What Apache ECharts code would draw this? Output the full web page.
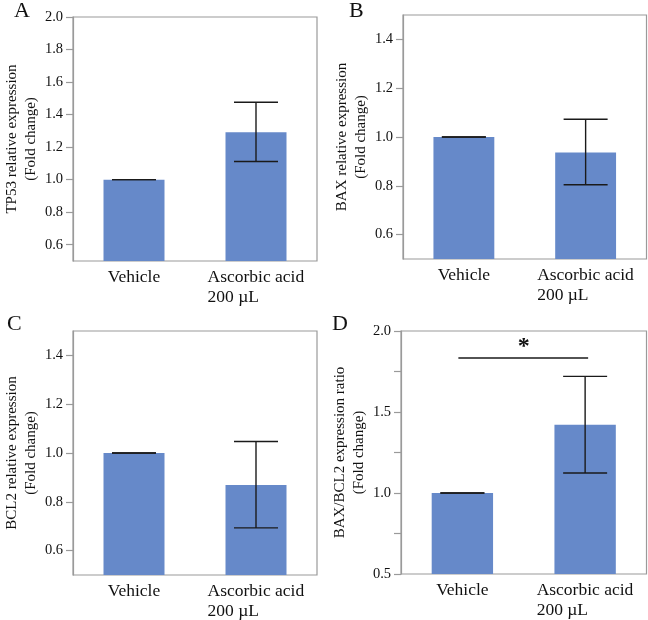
<!DOCTYPE html>
<html>
<head>
<meta charset="utf-8">
<script src="https://cdn.jsdelivr.net/npm/echarts@6/dist/echarts.min.js"></script>
<style>html,body{margin:0;padding:0;background:#fff;}#main{width:648px;height:620px;}</style>
</head>
<body>
<div id="main"></div>
<script>
// ---- data ----
const categories = ['Vehicle', 'Ascorbic acid\n200 µL'];
const panelLetters = ['A', 'B', 'C', 'D'];
const yNames = [
  'TP53 relative expression\n(Fold change)',
  'BAX relative expression\n(Fold change)',
  'BCL2 relative expression\n(Fold change)',
  'BAX/BCL2 expression ratio\n(Fold change)'
];
const meanA = [1.0, 1.292];
const lowA = [1.0, 1.112];
const highA = [1.0, 1.476];
const meanB = [1.0, 0.936];
const lowB = [1.0, 0.804];
const highB = [1.0, 1.073];
const meanC = [1.0, 0.869];
const lowC = [1.0, 0.693];
const highC = [1.0, 1.047];
const meanD = [1.0, 1.422];
const lowD = [1.0, 1.123];
const highD = [1.0, 1.72];
const sigD = 1.833;
const sigMark = '*';
const ticksA = [0.6, 0.8, 1.0, 1.2, 1.4, 1.6, 1.8, 2.0];
const ticksBC = [0.6, 0.8, 1.0, 1.2, 1.4];
const ticksD = [0.5, 0.75, 1.0, 1.25, 1.5, 1.75, 2.0];
const labelsD = [0.5, 1.0, 1.5, 2.0];
const yRanges = [[0.5, 2.0], [0.5, 1.5], [0.5, 1.5], [0.5, 2.0]];

// ---- styling ----
const serif = 'Liberation Serif';
const barColor = '#6689c9';
const axisGray = '#9a9a9a';
const grids = [
  {left: 73, right: 331, top: 17, bottom: 359},
  {left: 403, right: 1.5, top: 15, bottom: 361},
  {left: 73, right: 331, top: 331, bottom: 45},
  {left: 401, right: 1.5, top: 331, bottom: 46}
];
const letterPos = [[14, 0], [349, 0], [7, 313], [332, 313]];
const means = [meanA, meanB, meanC, meanD];
const lows = [lowA, lowB, lowC, lowD];
const highs = [highA, highB, highC, highD];
const tickSets = [ticksA, ticksBC, ticksBC, ticksD];
const labelSets = [ticksA, ticksBC, ticksBC, labelsD];

const chart = echarts.init(document.getElementById('main'), null, {renderer: 'canvas'});

function catFormatter(v) {
  const lines = v.split('\n');
  if (lines.length > 1) return lines.map(l => '{a|' + l + '}').join('\n');
  return '{b|' + v + '}';
}

const xAxis = [], yAxis = [], series = [], title = [];
for (let i = 0; i < 4; i++) {
  grids[i].show = true;
  grids[i].borderColor = axisGray;
  grids[i].borderWidth = 1.2;
  xAxis.push({
    type: 'category', gridIndex: i, data: categories,
    axisLine: {show: false}, axisTick: {show: false},
    axisLabel: {
      formatter: catFormatter, margin: 6, color: '#111',
      rich: {
        a: {fontFamily: serif, fontSize: 17.5, lineHeight: 20, width: 97, align: 'left', color: '#111'},
        b: {fontFamily: serif, fontSize: 17.5, lineHeight: 20, color: '#111'}
      }
    }
  });
  yAxis.push({
    type: 'value', gridIndex: i, min: yRanges[i][0], max: yRanges[i][1],
    name: yNames[i], nameLocation: 'middle', nameRotate: 90, nameGap: 29,
    nameTextStyle: {fontFamily: serif, fontSize: 15, lineHeight: 19.5, color: '#111'},
    axisLine: {show: true, lineStyle: {color: axisGray, width: 1.2}},
    axisTick: {show: true, length: 7, customValues: tickSets[i], lineStyle: {color: axisGray, width: 1.2}},
    axisLabel: {fontFamily: serif, fontSize: 14.5, color: '#111', margin: 10,
      customValues: labelSets[i], formatter: v => v.toFixed(1)},
    splitLine: {show: false}
  });
  title.push({text: panelLetters[i], left: letterPos[i][0], top: letterPos[i][1], padding: 0,
    textStyle: {fontFamily: serif, fontSize: 22, fontWeight: 'normal', color: '#111'}});
  series.push({
    type: 'bar', xAxisIndex: i, yAxisIndex: i, data: means[i], barWidth: '50%',
    itemStyle: {color: barColor}, silent: true
  });
  const errData = categories.map((c, k) => [k, lows[i][k], highs[i][k]]);
  series.push({
    type: 'custom', xAxisIndex: i, yAxisIndex: i, data: errData, z: 5, silent: true,
    renderItem: function (params, api) {
      const p1 = api.coord([api.value(0), api.value(1)]);
      const p2 = api.coord([api.value(0), api.value(2)]);
      const hw = 22;
      const st = {stroke: '#1a1a1a', lineWidth: 1.4};
      return {type: 'group', children: [
        {type: 'line', shape: {x1: p1[0], y1: p1[1], x2: p2[0], y2: p2[1]}, style: st},
        {type: 'line', shape: {x1: p1[0] - hw, y1: p1[1], x2: p1[0] + hw, y2: p1[1]}, style: st},
        {type: 'line', shape: {x1: p2[0] - hw, y1: p2[1], x2: p2[0] + hw, y2: p2[1]}, style: st}
      ]};
    }
  });
}
// significance bar in panel D
series.push({
  type: 'custom', xAxisIndex: 3, yAxisIndex: 3, data: [[0, 1, sigD]], z: 6, silent: true,
  renderItem: function (params, api) {
    const a = api.coord([api.value(0), api.value(2)]);
    const b = api.coord([api.value(1), api.value(2)]);
    return {type: 'group', children: [
      {type: 'line', shape: {x1: a[0] - 4, y1: a[1], x2: b[0] + 3, y2: b[1]}, style: {stroke: '#1a1a1a', lineWidth: 1.4}},
      {type: 'text', style: {text: sigMark, x: (a[0] + b[0]) / 2, y: a[1] - 11, textAlign: 'center', textVerticalAlign: 'middle',
        fontFamily: serif, fontSize: 24, fontWeight: 'bold', fill: '#111'}}
    ]};
  }
});

chart.setOption({animation: false, backgroundColor: '#fff', title, grid: grids, xAxis, yAxis, series});
</script>
</body>
</html>
